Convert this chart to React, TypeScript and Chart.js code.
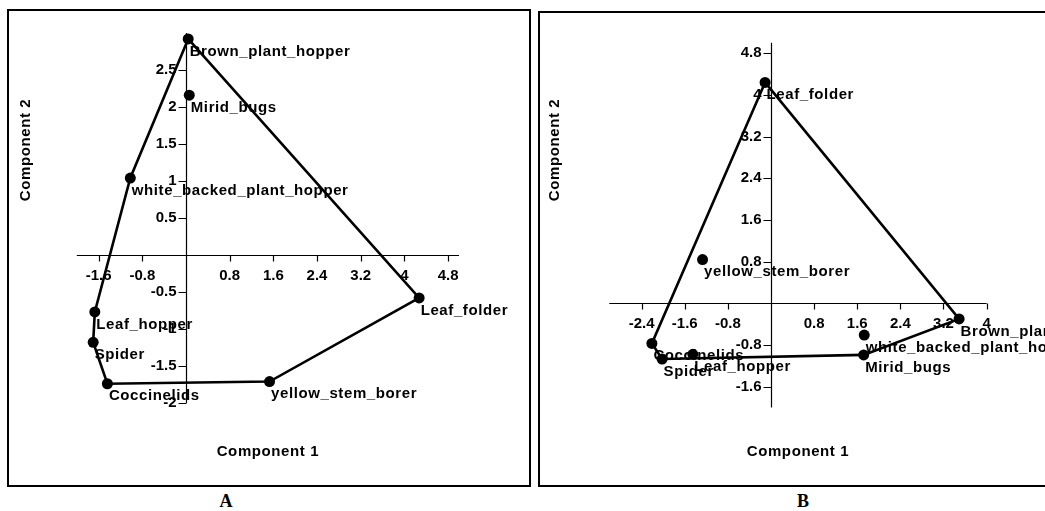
import React, { useEffect, useRef } from "react";
import { Chart, registerables } from "chart.js";

Chart.register(...registerables);

// ---------- data ----------
const species = [
  "Brown_plant_hopper",
  "Mirid_bugs",
  "white_backed_plant_hopper",
  "Leaf_folder",
  "yellow_stem_borer",
  "Coccinelids",
  "Spider",
  "Leaf_hopper",
];

// Panel A
const pc1A = [0.04, 0.06, -1.02, 4.27, 1.53, -1.44, -1.7, -1.67];
const pc2A = [2.92, 2.16, 1.04, -0.58, -1.71, -1.74, -1.18, -0.77];
const hullA = [
  "Brown_plant_hopper",
  "Leaf_folder",
  "yellow_stem_borer",
  "Coccinelids",
  "Spider",
  "Leaf_hopper",
  "white_backed_plant_hopper",
  "Brown_plant_hopper",
];
const xRangeA = [-2, 5];
const yRangeA = [-2, 3];
const xTicksA = [-1.6, -0.8, 0.8, 1.6, 2.4, 3.2, 4, 4.8];
const yTicksA = [-2, -1.5, -1, -0.5, 0.5, 1, 1.5, 2, 2.5];

// Panel B
const pc1B = [3.49, 1.72, 1.73, -0.11, -1.27, -2.21, -2.02, -1.45];
const pc2B = [-0.3, -0.99, -0.61, 4.24, 0.84, -0.77, -1.07, -0.98];
const hullB = [
  "Leaf_folder",
  "Brown_plant_hopper",
  "Mirid_bugs",
  "Spider",
  "Coccinelids",
  "Leaf_folder",
];
const xRangeB = [-3, 4];
const yRangeB = [-2, 5];
const xTicksB = [-2.4, -1.6, -0.8, 0.8, 1.6, 2.4, 3.2, 4];
const yTicksB = [-1.6, -0.8, 0.8, 1.6, 2.4, 3.2, 4, 4.8];

const xTitle = "Component 1";
const yTitle = "Component 2";

// ---------- drawing helpers ----------
const FONT = 'bold 15px "Liberation Sans", Arial, Helvetica, sans-serif';

const crossAxesPlugin = {
  id: "crossAxes",
  beforeDatasetsDraw(chart: any, _args: any, opts: any) {
    const { ctx } = chart;
    const sx = chart.scales.x;
    const sy = chart.scales.y;
    const x0 = Math.round(sx.getPixelForValue(0)) + 0.5;
    const y0 = Math.round(sy.getPixelForValue(0)) + 0.5;
    const left = sx.getPixelForValue(sx.min);
    const right = sx.getPixelForValue(sx.max);
    const top = sy.getPixelForValue(sy.max);
    const bottom = sy.getPixelForValue(sy.min);
    ctx.save();
    ctx.strokeStyle = "#000";
    ctx.lineWidth = 1.2;
    ctx.beginPath();
    ctx.moveTo(left, y0);
    ctx.lineTo(right, y0);
    ctx.moveTo(x0, top);
    ctx.lineTo(x0, bottom);
    (opts.xTicks || []).forEach((v: number) => {
      const px = Math.round(sx.getPixelForValue(v)) + 0.5;
      ctx.moveTo(px, y0);
      ctx.lineTo(px, y0 + 6);
    });
    (opts.yTicks || []).forEach((v: number) => {
      const py = Math.round(sy.getPixelForValue(v)) + 0.5;
      ctx.moveTo(x0 - 8, py);
      ctx.lineTo(x0, py);
    });
    ctx.stroke();

    ctx.fillStyle = "#000";
    ctx.font = FONT;
    (ctx as any).letterSpacing = "0px";
    ctx.textAlign = "center";
    ctx.textBaseline = "middle";
    (opts.xTicks || []).forEach((v: number) => {
      ctx.fillText(String(v), sx.getPixelForValue(v), y0 + 20.5);
    });
    ctx.textAlign = "right";
    (opts.yTicks || []).forEach((v: number) => {
      ctx.fillText(String(v), x0 - 10, sy.getPixelForValue(v));
    });
    ctx.restore();
  },
  afterDatasetsDraw(chart: any, _args: any, opts: any) {
    const { ctx } = chart;
    const sx = chart.scales.x;
    const sy = chart.scales.y;
    ctx.save();
    ctx.fillStyle = "#000";
    ctx.font = FONT;
    (ctx as any).letterSpacing = "0.6px";
    ctx.textAlign = "left";
    ctx.textBaseline = "middle";
    const pts = chart.data.datasets[1].data;
    pts.forEach((p: any) => {
      ctx.fillText(
        p.label,
        sx.getPixelForValue(p.x) + 1.5,
        sy.getPixelForValue(p.y) + 12.5
      );
    });
    // axis titles
    ctx.textAlign = "center";
    const area = chart.chartArea;
    ctx.fillText(opts.xTitle, (area.left + area.right) / 2, area.bottom + opts.xTitleOffset);
    ctx.translate(opts.yTitleX, opts.yTitleY);
    ctx.rotate(-Math.PI / 2);
    ctx.fillText(opts.yTitle, 0, 0);
    ctx.restore();
  },
};

type PanelProps = {
  xs: number[];
  ys: number[];
  hull: string[];
  xRange: number[];
  yRange: number[];
  xTicks: number[];
  yTicks: number[];
  width: number;
  height: number;
  padding: { left: number; right: number; top: number; bottom: number };
  xTitleOffset: number;
  yTitleX: number;
  yTitleY: number;
};

function Panel(props: PanelProps) {
  const ref = useRef<HTMLCanvasElement | null>(null);
  useEffect(() => {
    if (!ref.current) return;
    const points = species.map((s, i) => ({ x: props.xs[i], y: props.ys[i], label: s }));
    const hullPts = props.hull.map((name) => {
      const i = species.indexOf(name);
      return { x: props.xs[i], y: props.ys[i] };
    });
    const chart = new Chart(ref.current, {
      type: "scatter",
      data: {
        datasets: [
          {
            data: hullPts,
            showLine: true,
            borderColor: "#000",
            borderWidth: 2.6,
            pointRadius: 0,
            fill: false,
            tension: 0,
            clip: false,
          } as any,
          {
            data: points,
            pointRadius: 5.5,
            pointBackgroundColor: "#000",
            pointBorderWidth: 0,
            showLine: false,
            clip: false,
          } as any,
        ],
      },
      options: {
        responsive: false,
        animation: false,
        devicePixelRatio: 1,
        events: [],
        layout: { padding: props.padding },
        scales: {
          x: { type: "linear", min: props.xRange[0], max: props.xRange[1], display: false },
          y: { type: "linear", min: props.yRange[0], max: props.yRange[1], display: false },
        },
        plugins: {
          legend: { display: false },
          tooltip: { enabled: false },
          crossAxes: {
            xTicks: props.xTicks,
            yTicks: props.yTicks,
            xTitle,
            yTitle,
            xTitleOffset: props.xTitleOffset,
            yTitleX: props.yTitleX,
            yTitleY: props.yTitleY,
          },
        } as any,
      },
      plugins: [crossAxesPlugin as any],
    });
    return () => chart.destroy();
  }, []);
  return <canvas ref={ref} width={props.width} height={props.height} style={{ display: "block" }} />;
}

export default function App() {
  return (
    <div
      style={{
        position: "fixed",
        left: 0,
        top: 0,
        width: 1045,
        height: 511,
        overflow: "hidden",
        background: "#fff",
      }}
    >
      <div
        style={{
          position: "absolute",
          left: 7,
          top: 9,
          width: 520,
          height: 474,
          border: "2px solid #000",
        }}
      >
        <Panel
          xs={pc1A}
          ys={pc2A}
          hull={hullA}
          xRange={xRangeA}
          yRange={yRangeA}
          xTicks={xTicksA}
          yTicks={yTicksA}
          width={520}
          height={474}
          padding={{ left: 67.8, right: 70, top: 22, bottom: 82 }}
          xTitleOffset={49}
          yTitleX={16.5}
          yTitleY={139}
        />
      </div>
      <div
        style={{
          position: "absolute",
          left: 538,
          top: 11,
          width: 560,
          height: 472,
          border: "2px solid #000",
        }}
      >
        <Panel
          xs={pc1B}
          ys={pc2B}
          hull={hullB}
          xRange={xRangeB}
          yRange={yRangeB}
          xTicks={xTicksB}
          yTicks={yTicksB}
          width={505}
          height={472}
          padding={{ left: 69.3, right: 58.4, top: 29.8, bottom: 77.5 }}
          xTitleOffset={44}
          yTitleX={15}
          yTitleY={137}
        />
      </div>
      <div
        style={{
          position: "absolute",
          left: 196,
          width: 60,
          top: 491,
          textAlign: "center",
          font: 'bold 18px "Liberation Serif", "Times New Roman", serif',
        }}
      >
        A
      </div>
      <div
        style={{
          position: "absolute",
          left: 773,
          width: 60,
          top: 491,
          textAlign: "center",
          font: 'bold 18px "Liberation Serif", "Times New Roman", serif',
        }}
      >
        B
      </div>
    </div>
  );
}
